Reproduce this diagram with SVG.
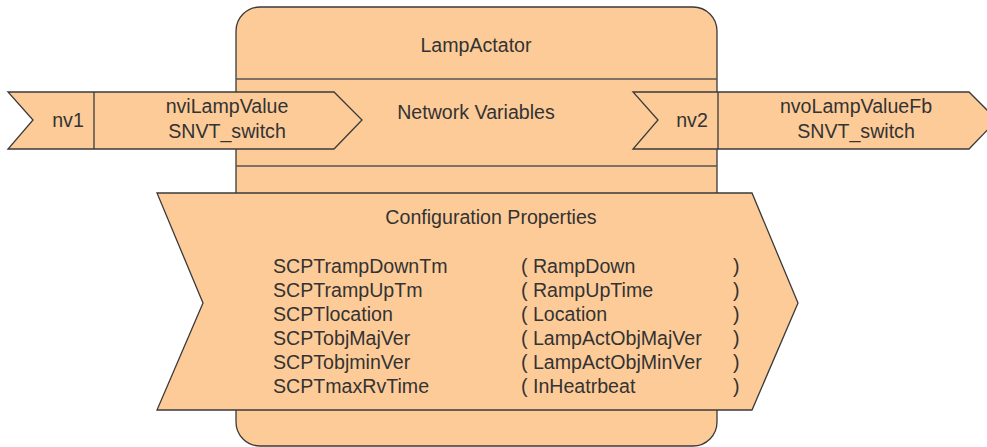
<svg xmlns="http://www.w3.org/2000/svg" width="987" height="447" viewBox="0 0 987 447">
<style>
.shape{fill:#FDCB98;stroke:#3a3a3a;stroke-width:1.3}
.t{font-family:"Liberation Sans",Arial,sans-serif;font-size:19.6px;fill:#333}
.c{text-anchor:middle}
</style>
<rect width="987" height="447" fill="#ffffff"/>
<g id="lampActator">
<rect class="shape" x="236" y="7" width="481" height="439" rx="24" ry="24" stroke="#555"/>
<line x1="236" y1="79" x2="717" y2="79" stroke="#555" stroke-width="1.3"/>
<line x1="236" y1="166" x2="717" y2="166" stroke="#555" stroke-width="1.3"/>
<text class="t c" x="476" y="52">LampActator</text>
<text class="t c" x="476" y="119">Network Variables</text>
</g>
<g id="nv1">
<polygon class="shape" points="8,92 334,92 362,120 334,149 8,149 33,120"/>
<line x1="94" y1="92" x2="94" y2="149" stroke="#3a3a3a" stroke-width="1.3"/>
<text class="t c" x="68" y="127">nv1</text>
<text class="t c" x="227" y="113">nviLampValue</text>
<text class="t c" x="227" y="138">SNVT_switch</text>
</g>
<g id="nv2">
<polygon class="shape" points="633,92 969,92 997,120 969,149 633,149 658,120"/>
<line x1="718" y1="92" x2="718" y2="149" stroke="#3a3a3a" stroke-width="1.3"/>
<text class="t c" x="692" y="127">nv2</text>
<text class="t c" x="856" y="113">nvoLampValueFb</text>
<text class="t c" x="856" y="138">SNVT_switch</text>
</g>
<g id="configProperties">
<polygon class="shape" points="157,193 752,193 798,303 752,410 157,410 203,303"/>
<text class="t c" x="491" y="224">Configuration Properties</text>
<text class="t" x="273" y="273">SCPTrampDownTm</text>
<text class="t" x="273" y="297">SCPTrampUpTm</text>
<text class="t" x="273" y="321">SCPTlocation</text>
<text class="t" x="273" y="345">SCPTobjMajVer</text>
<text class="t" x="273" y="369">SCPTobjminVer</text>
<text class="t" x="273" y="393">SCPTmaxRvTime</text>
<text class="t" x="521" y="273">( RampDown</text>
<text class="t" x="521" y="297">( RampUpTime</text>
<text class="t" x="521" y="321">( Location</text>
<text class="t" x="521" y="345">( LampActObjMajVer</text>
<text class="t" x="521" y="369">( LampActObjMinVer</text>
<text class="t" x="521" y="393">( InHeatrbeat</text>
<text class="t" x="733" y="273">)</text>
<text class="t" x="733" y="297">)</text>
<text class="t" x="733" y="321">)</text>
<text class="t" x="733" y="345">)</text>
<text class="t" x="733" y="369">)</text>
<text class="t" x="733" y="393">)</text>
</g>
<g id="connectors"></g>
</svg>
